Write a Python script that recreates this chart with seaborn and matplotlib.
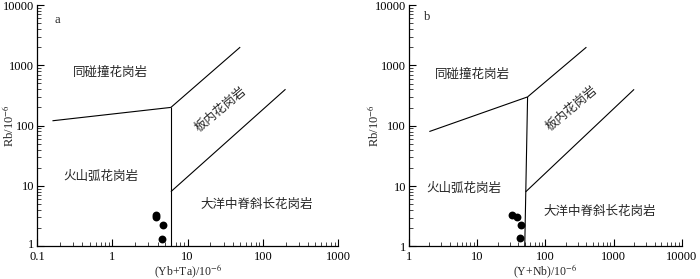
import matplotlib
matplotlib.use("Agg")
import matplotlib.pyplot as plt
import matplotlib.transforms as mtransforms
import seaborn as sns
import pandas as pd
from matplotlib.ticker import LogLocator, FixedLocator, NullFormatter

# ---------------- data ----------------
# panel a: Yb+Ta vs Rb
a_x = [3.8, 3.8, 4.75, 4.5]
a_y = [3.25, 3.0, 2.25, 1.32]
# boundaries panel a (each a polyline)
a_syn_x = [0.16, 6.0]; a_syn_y = [120, 200]
a_vert_x = [6.0, 6.0]; a_vert_y = [200, 1]
a_wpg_x = [6.0, 50]; a_wpg_y = [200, 2000]
a_org_x = [6.0, 200]; a_org_y = [8, 400]

# panel b: Y+Nb vs Rb
b_x = [33, 39, 44, 42]
b_y = [3.35, 3.1, 2.3, 1.37]
b_syn_x = [2, 55]; b_syn_y = [80, 300]
b_vert_x = [55, 50]; b_vert_y = [300, 1]
b_wpg_x = [55, 400]; b_wpg_y = [300, 2000]
b_org_x = [51.5, 2000]; b_org_y = [8, 400]

lab_syn = "同碰撞花岗岩"
lab_vag = "火山弧花岗岩"
lab_org = "大洋中脊斜长花岗岩"
lab_wpg = "板内花岗岩"

a_xlim = (0.1, 1000); b_xlim = (1, 10000); ylim = (1, 10000)
a_xticks = [0.1, 1, 10, 100, 1000]; a_xticklabels = ["0.1", "1", "10", "100", "1000"]
b_xticks = [1, 10, 100, 1000, 10000]; b_xticklabels = ["1", "10", "100", "1000", "10000"]
yticks = [1, 10, 100, 1000, 10000]; yticklabels = ["1", "10", "100", "1000", "10000"]

# ---------------- style ----------------
sns.set_style("ticks")
plt.rcParams['font.family'] = ['Liberation Serif', 'Noto Sans CJK SC']
plt.rcParams['mathtext.fontset'] = 'stix'
CJK = ['Noto Sans CJK SC', 'DejaVu Sans']

fig = plt.figure(figsize=(7.0, 2.79), dpi=100)
axa = fig.add_axes([0.053, 0.118, 0.430, 0.864])
axb = fig.add_axes([0.584, 0.117, 0.390, 0.865])

def setup(ax, xlim, xticks, xticklabels):
    ax.set_xscale('log'); ax.set_yscale('log')
    ax.set_xlim(*xlim); ax.set_ylim(*ylim)
    ax.xaxis.set_major_locator(FixedLocator(xticks))
    ax.set_xticklabels(xticklabels)
    ax.yaxis.set_major_locator(FixedLocator(yticks))
    ax.set_yticklabels(yticklabels)
    ax.xaxis.set_minor_locator(LogLocator(base=10, subs=range(2, 10), numticks=20))
    ax.yaxis.set_minor_locator(LogLocator(base=10, subs=range(2, 10), numticks=20))
    ax.xaxis.set_minor_formatter(NullFormatter())
    ax.yaxis.set_minor_formatter(NullFormatter())
    ax.tick_params(which='major', direction='in', length=5, width=0.8, labelsize=9, colors='black')
    ax.tick_params(axis='x', which='major', pad=3.5)
    ax.tick_params(axis='y', which='major', pad=2)
    ax.tick_params(which='minor', direction='in', length=3, width=0.6)
    sns.despine(ax=ax)
    for s in ['left', 'bottom']:
        ax.spines[s].set_linewidth(0.9)
        ax.spines[s].set_color('black')

setup(axa, a_xlim, a_xticks, a_xticklabels)
setup(axb, b_xlim, b_xticks, b_xticklabels)

# nudge the lowest y tick label of panel a up a little (corner crowding)
lbl = axa.get_yticklabels()[0]
lbl.set_transform(lbl.get_transform() + mtransforms.ScaledTranslation(0, 1.5 / 72, fig.dpi_scale_trans))

lw = 0.8
for ax, segs in [(axa, [(a_syn_x, a_syn_y), (a_vert_x, a_vert_y), (a_wpg_x, a_wpg_y), (a_org_x, a_org_y)]),
                 (axb, [(b_syn_x, b_syn_y), (b_vert_x, b_vert_y), (b_wpg_x, b_wpg_y), (b_org_x, b_org_y)])]:
    for sx, sy in segs:
        ax.plot(sx, sy, color='black', lw=lw, solid_capstyle='butt')

dfa = pd.DataFrame({"x": a_x, "y": a_y})
dfb = pd.DataFrame({"x": b_x, "y": b_y})
sns.scatterplot(data=dfa, x="x", y="y", ax=axa, color='black', s=32, edgecolor='black', linewidth=0, zorder=5)
sns.scatterplot(data=dfb, x="x", y="y", ax=axb, color='black', s=32, edgecolor='black', linewidth=0, zorder=5)

axa.set_xlabel(r"(Yb+Ta)/10$^{-6}$", fontsize=8.5)
axb.set_xlabel(r"(Y+Nb)/10$^{-6}$", fontsize=8.5)
axa.set_ylabel(r"Rb/10$^{-6}$", fontsize=9)
axb.set_ylabel(r"Rb/10$^{-6}$", fontsize=9)
axa.xaxis.set_label_coords(0.5, -0.106)
axb.xaxis.set_label_coords(0.5, -0.104)
axa.yaxis.set_label_coords(-0.092, 0.5)
axb.yaxis.set_label_coords(-0.128, 0.5)
axa.yaxis.label.set_va('center')
axb.yaxis.label.set_va('center')
axa.xaxis.label.set_va('center')
axb.xaxis.label.set_va('center')

fs = 9
# panel a labels
axa.text(0.94, 746, lab_syn, family=CJK, fontsize=fs, ha='center', va='center')
axa.text(0.70, 14.5, lab_vag, family=CJK, fontsize=fs, ha='center', va='center')
axa.text(84, 4.84, lab_org, family=CJK, fontsize=fs, ha='center', va='center')
axa.text(27.8, 184, lab_wpg, family=CJK, fontsize=fs, ha='center', va='center', rotation=40)
axa.text(0.188, 5710, "a", fontsize=9, ha='center', va='center')
# panel b labels
axb.text(8.5, 697, lab_syn, family=CJK, fontsize=fs, ha='center', va='center')
axb.text(6.45, 9.2, lab_vag, family=CJK, fontsize=fs, ha='center', va='center')
axb.text(624, 3.79, lab_org, family=CJK, fontsize=fs, ha='center', va='center')
axb.text(240, 196, lab_wpg, family=CJK, fontsize=fs, ha='center', va='center', rotation=40)
axb.text(1.83, 6250, "b", fontsize=9, ha='center', va='center')

fig.savefig("out.png", dpi=100)
